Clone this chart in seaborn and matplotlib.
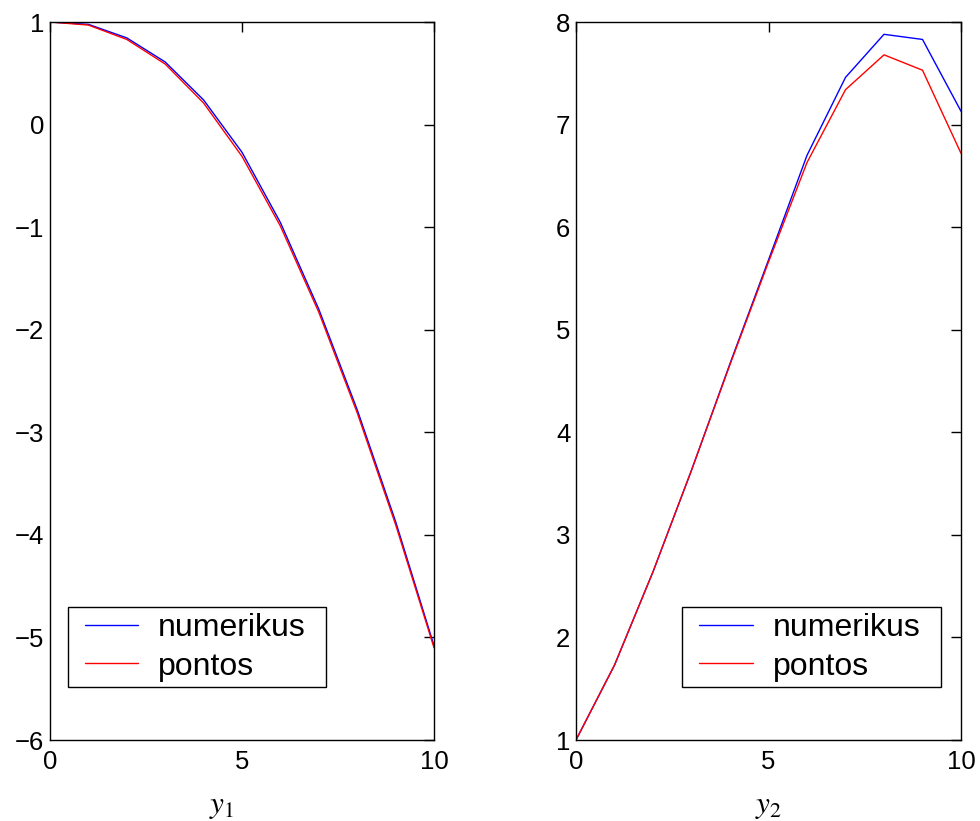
import numpy as np
import pandas as pd
import matplotlib
matplotlib.use("Agg")
import matplotlib.pyplot as plt
from matplotlib.legend_handler import HandlerLine2D
from matplotlib.lines import Line2D
import seaborn as sns

# ---- data ----
t = [0, 1, 2, 3, 4, 5, 6, 7, 8, 9, 10]
y1_numerikus = [1.0, 0.977, 0.845, 0.61, 0.24, -0.27, -0.955, -1.80, -2.78, -3.87, -5.08]
y1_pontos = [1.0, 0.97, 0.83, 0.59, 0.21, -0.31, -0.99, -1.83, -2.81, -3.90, -5.10]
y2_numerikus = [1.0, 1.73, 2.64, 3.63, 4.67, 5.68, 6.70, 7.46, 7.88, 7.83, 7.13]
y2_pontos = [1.0, 1.73, 2.64, 3.63, 4.66, 5.66, 6.63, 7.34, 7.68, 7.53, 6.72]
legend_labels = ["numerikus", "pontos"]
xlabels = [r"$y_1$", r"$y_2$"]
xticks = [0, 5, 10]
yticks_left = [-6, -5, -4, -3, -2, -1, 0, 1]
yticks_right = [1, 2, 3, 4, 5, 6, 7, 8]

sns.set_style("white")
plt.rcParams["font.family"] = ["Liberation Sans", "DejaVu Sans"]
plt.rcParams["mathtext.fontset"] = "stix"
plt.rcParams["axes.unicode_minus"] = True
plt.rcParams["text.color"] = "black"
plt.rcParams["axes.labelcolor"] = "black"

fig = plt.figure(figsize=(9.8, 8.21), dpi=100)
ax1 = fig.add_axes([50 / 980, 81 / 821, 384 / 980, 718 / 821])
ax2 = fig.add_axes([576 / 980, 81 / 821, 385 / 980, 718 / 821])

df1 = pd.DataFrame({"t": t, "num": y1_numerikus, "pon": y1_pontos})
df2 = pd.DataFrame({"t": t, "num": y2_numerikus, "pon": y2_pontos})

for ax, df, yt, xl, lx, xlab_x in [
    (ax1, df1, yticks_left, xlabels[0], 0.046, 0.448),
    (ax2, df2, yticks_right, xlabels[1], 0.276, 0.5),
]:
    sns.lineplot(data=df, x="t", y="num", color="#0000ff", linewidth=1.0,
                 label=legend_labels[0], ax=ax)
    sns.lineplot(data=df, x="t", y="pon", color="#ff0000", linewidth=1.0,
                 label=legend_labels[1], ax=ax)
    ax.set_xlim(0, 10)
    ax.set_ylim(yt[0], yt[-1])
    ax.set_xticks(xticks)
    ax.set_yticks(yt)
    ax.set_yticklabels([str(v).replace("-", "\u2212") for v in yt])
    ax.tick_params(axis="both", which="both", direction="in", length=7,
                   width=1.0, top=True, right=True, labelsize=18.5, colors="black")
    ax.tick_params(axis="x", pad=7)
    ax.tick_params(axis="y", pad=4)
    for s in ax.spines.values():
        s.set_visible(True)
        s.set_color("black")
        s.set_linewidth(1.0)
    ax.set_ylabel("")
    ax.set_xlabel(xl, fontsize=22.5)
    ax.xaxis.set_label_coords(xlab_x, -0.092)
    ax.xaxis.label.set_va("center")
    handles, labels = ax.get_legend_handles_labels()
    leg = ax.legend(handles, labels, loc="lower left",
                    bbox_to_anchor=(lx, 0.0734, 258 / 384, 81 / 718), mode="expand",
                    fontsize=23, frameon=True, fancybox=False,
                    edgecolor="black", framealpha=1, borderaxespad=0,
                    handlelength=2.03, handletextpad=0.62, borderpad=0.18,
                    labelspacing=0.27,
                    handler_map={Line2D: HandlerLine2D(xpad=0.35)})
    leg.get_frame().set_linewidth(1.0)

fig.savefig("out.png", dpi=100, facecolor="white")
